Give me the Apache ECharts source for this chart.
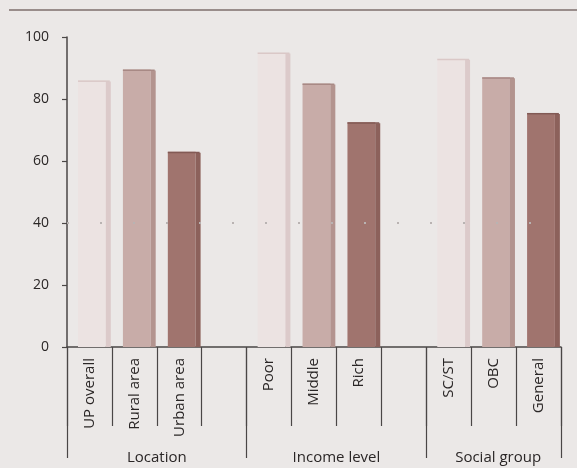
<!DOCTYPE html>
<html>
<head>
<meta charset="utf-8">
<style>
  html, body { margin: 0; padding: 0; background: #ebe8e7; }
  #chart { width: 577px; height: 468px; }
</style>
<script src="https://cdn.jsdelivr.net/npm/echarts@6/dist/echarts.min.js"></script>
</head>
<body>
<div id="chart"></div>
<script>
// Categories along the x axis; blank entries separate the three groups
const categories = ['UP overall', 'Rural area', 'Urban area', '', 'Poor', 'Middle', 'Rich', ' ', 'SC/ST', 'OBC', 'General'];
// Share (%) for each category; null where a spacer column sits
const values = [86, 89.5, 63, null, 95, 85, 72.5, null, 93, 87, 75.5];
// Shade used for each bar: 0 = light, 1 = medium, 2 = dark
const shades = [0, 1, 2, null, 0, 1, 2, null, 0, 1, 2];
// Group captions and where they sit on the slot scale (0..11)
const groupNames = ['Location', 'Income level', 'Social group'];
const groupCenters = [2, 6, 9.6];
const groupBounds = [0, 4, 8, 11];
// Y axis tick labels
const yTicks = [0, 20, 40, 60, 80, 100];

const FONT = '"Open Sans", Lato, sans-serif';
const palette = [
  { face: '#ece3e2', side: '#dccaca', top: '#dac8c7' },
  { face: '#c8aca8', side: '#b3948f', top: '#a88985' },
  { face: '#a0746e', side: '#8c615b', top: '#825a55' }
];

const barData = values
  .map((v, i) => (v == null ? null : [i, v, shades[i]]))
  .filter(d => d);

function renderBar(params, api) {
  const idx = api.value(0);
  const v = api.value(1);
  const shade = palette[api.value(2)];
  const base = api.coord([idx, 0]);
  const top = api.coord([idx, v]);
  const slot = api.size([1, 0])[0];
  const x0 = base[0] - slot / 2 + slot * 0.245;
  const x1 = base[0] + slot / 2 - slot * 0.025;
  const w = x1 - x0;
  const side = 5;
  return {
    type: 'group',
    children: [
      { type: 'rect', shape: { x: x0, y: top[1], width: w - side, height: base[1] - top[1] },
        style: { fill: shade.face } },
      { type: 'rect', shape: { x: x1 - side, y: top[1] + 1, width: side, height: base[1] - top[1] - 1 },
        style: { fill: shade.side } },
      { type: 'rect', shape: { x: x0, y: top[1], width: w - 1, height: 1.5 },
        style: { fill: shade.top } }
    ]
  };
}

const chart = echarts.init(document.getElementById('chart'), null, { renderer: 'canvas' });
chart.setOption({
  backgroundColor: '#ebe8e7',
  animation: false,
  grid: { left: 67, right: 16, top: 37, bottom: 121 },
  graphic: [
    { type: 'line', shape: { x1: 9, y1: 10, x2: 577, y2: 10 },
      style: { stroke: '#7e6f6d', lineWidth: 1.5 } }
  ],
  xAxis: [
    {
      type: 'category',
      data: categories,
      position: 'bottom',
      axisLine: { lineStyle: { color: '#4a4646', width: 1.5 } },
      axisTick: { show: true, length: 79, lineStyle: { color: '#4a4646', width: 1.2 } },
      axisLabel: { rotate: 90, interval: 0, margin: 11, fontSize: 15, fontFamily: FONT, color: '#2a2626' },
      splitLine: { show: false }
    },
    {
      type: 'value',
      min: 0,
      max: 11,
      position: 'bottom',
      axisLine: { show: false },
      axisTick: { show: true, length: 111, customValues: groupBounds,
        lineStyle: { color: '#4a4646', width: 1.2 } },
      axisLabel: {
        show: true, margin: 103, fontSize: 15, fontFamily: FONT, color: '#2a2626',
        customValues: groupCenters,
        formatter: v => groupNames[groupCenters.indexOf(v)] || ''
      },
      splitLine: { show: false }
    }
  ],
  yAxis: {
    type: 'value',
    min: yTicks[0],
    max: yTicks[yTicks.length - 1],
    interval: 20,
    axisLine: { show: true, lineStyle: { color: '#4a4646', width: 1.5 } },
    axisTick: { show: true, length: 5, lineStyle: { color: '#4a4646', width: 1.2 } },
    axisLabel: { margin: 18, fontSize: 14, fontFamily: FONT, color: '#2a2626' },
    splitLine: { show: false }
  },
  series: [
    {
      type: 'custom',
      xAxisIndex: 0,
      yAxisIndex: 0,
      renderItem: renderBar,
      encode: { x: 0, y: 1 },
      data: barData,
      silent: true,
      z: 2
    },
    {
      type: 'line',
      xAxisIndex: 0,
      data: [],
      silent: true,
      symbol: 'none',
      z: 1,
      markLine: {
        silent: true,
        symbol: 'none',
        label: { show: false },
        lineStyle: { color: '#b9b3b2', width: 2, type: [2, 31] },
        data: [{ yAxis: 40 }]
      }
    }
  ]
});
</script>
</body>
</html>
